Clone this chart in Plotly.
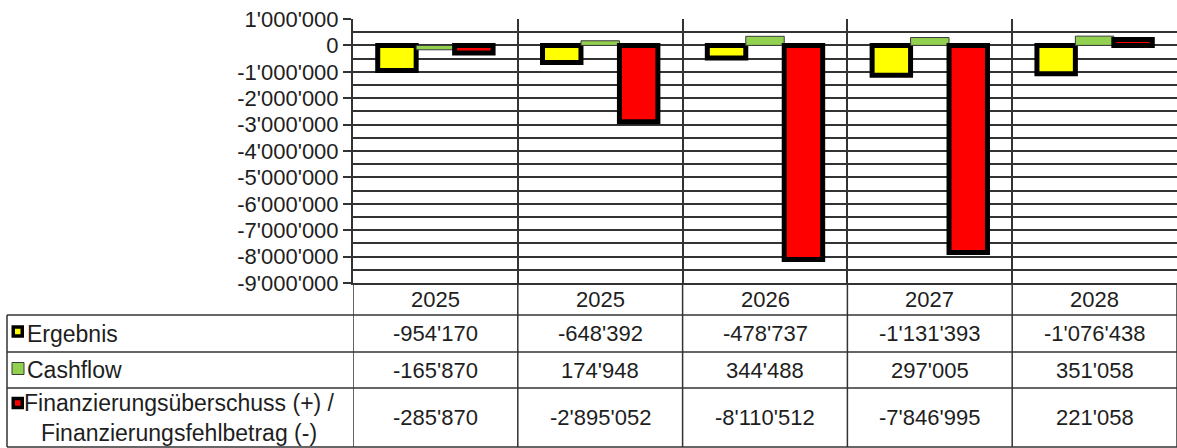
import plotly.graph_objects as go

# ---------------- data ----------------
years = ["2025", "2025", "2026", "2027", "2028"]
series_names = ["Ergebnis", "Cashflow", "Finanzierungsüberschuss (+) /<br>Finanzierungsfehlbetrag (-)"]
ergebnis = [-954170, -648392, -478737, -1131393, -1076438]
cashflow = [-165870, 174948, 344488, 297005, 351058]
finanz = [-285870, -2895052, -8110512, -7846995, 221058]
y_tickvals = [1000000, 0, -1000000, -2000000, -3000000, -4000000, -5000000,
              -6000000, -7000000, -8000000, -9000000]
y_ticktext = ["1'000'000", "0", "-1'000'000", "-2'000'000", "-3'000'000", "-4'000'000",
              "-5'000'000", "-6'000'000", "-7'000'000", "-8'000'000", "-9'000'000"]
y_minor = [500000, -500000, -1500000, -2500000, -3500000, -4500000, -5500000,
           -6500000, -7500000, -8500000]

colors = ["#FFFF00", "#92D050", "#FF0000"]
FONT = "Liberation Sans, Arial, sans-serif"
TXT = "#1e1e1e"
FS = 22
FS_LAB = 23

W, H = 1177, 448
L, R, T, B = 353, 0, 19, 165
PW, PH = W - L - R, H - T - B


def px(xp):
    return (xp - L) / PW


def py(yp):
    return (T + PH - yp) / PH


def fmt(v):
    return f"{v:,}".replace(",", "'")


xs = list(range(len(years)))
fig = go.Figure()
series = [ergebnis, cashflow, finanz]
line_w = [5, 1, 5]
line_c = ["#000000", "#3a3a3a", "#000000"]
for name, vals, c, lw, lc in zip(series_names, series, colors, line_w, line_c):
    fig.add_trace(go.Bar(x=xs, y=vals, name=name, marker=dict(color=c, line=dict(color=lc, width=lw)),
                         hoverinfo="y"))

shapes = []
annotations = []
GRID = "#333333"
# table horizontal lines
for yp in [315, 352, 388, 447]:
    shapes.append(dict(type="line", xref="paper", yref="paper", x0=px(7), x1=1, y0=py(yp), y1=py(yp),
                       line=dict(color=GRID, width=1.5)))
# table left border
shapes.append(dict(type="line", xref="paper", yref="paper", x0=px(7), x1=px(7), y0=py(315), y1=py(447),
                   line=dict(color=GRID, width=1.5)))
# category boundaries through the table
for i in range(len(years) + 1):
    shapes.append(dict(type="line", xref="x", yref="paper", x0=i - 0.5, x1=i - 0.5, y0=0, y1=py(447),
                       line=dict(color=GRID, width=1.5)))

# year header row + values
row_centers = [333.5, 370, 417.5]
for i, yr in enumerate(years):
    annotations.append(dict(x=i, y=py(299), xref="x", yref="paper", text=yr, showarrow=False,
                            xanchor="center", yanchor="middle", font=dict(family=FONT, size=FS, color=TXT)))
    for vals, yc in zip(series, row_centers):
        annotations.append(dict(x=i, y=py(yc), xref="x", yref="paper", text=fmt(vals[i]), showarrow=False,
                                xanchor="center", yanchor="middle", font=dict(family=FONT, size=FS, color=TXT)))

# legend keys + labels
key_y = [331.5, 368.5, 403]
for k, (name, c, yc) in enumerate(zip(series_names, colors, key_y)):
    if k == 1:
        shapes.append(dict(type="rect", xref="paper", yref="paper", x0=px(12), x1=px(24),
                           y0=py(yc + 6), y1=py(yc - 6), fillcolor=c, line=dict(color="#3a3a3a", width=1)))
    else:
        shapes.append(dict(type="rect", xref="paper", yref="paper", x0=px(11.5), x1=px(24),
                           y0=py(yc + 6.25), y1=py(yc - 6.25), fillcolor="#000000", line=dict(width=0)))
        shapes.append(dict(type="rect", xref="paper", yref="paper", x0=px(15), x1=px(20.5),
                           y0=py(yc + 2.75), y1=py(yc - 2.75), fillcolor=c, line=dict(width=0)))
for name, yc in zip(series_names[:2], row_centers[:2]):
    annotations.append(dict(x=px(25), y=py(yc), xref="paper", yref="paper", text=name, showarrow=False,
                            xanchor="left", yanchor="middle", font=dict(family=FONT, size=FS_LAB, color=TXT)))
annotations.append(dict(x=px(179), y=py(row_centers[2]), xref="paper", yref="paper", text=series_names[2],
                        showarrow=False, xanchor="center", yanchor="middle", align="center",
                        font=dict(family=FONT, size=FS_LAB, color=TXT)))

fig.update_layout(
    width=W, height=H,
    margin=dict(l=L, r=R, t=T, b=B, autoexpand=False),
    paper_bgcolor="white", plot_bgcolor="white",
    barmode="group", bargap=0.3, bargroupgap=0,
    showlegend=False,
    shapes=shapes, annotations=annotations,
    font=dict(family=FONT, size=FS, color=TXT),
    xaxis=dict(range=[-0.5, len(years) - 0.5], tickvals=[i - 0.5 for i in range(len(years) + 1)],
               showticklabels=False, ticks="", showgrid=True, gridcolor=GRID, gridwidth=1.5,
               showline=True, linecolor=GRID, linewidth=2, zeroline=False, fixedrange=True),
    yaxis=dict(range=[-9000000, 1000000], tickvals=y_tickvals, ticktext=y_ticktext,
               ticks="outside", ticklen=8, tickwidth=1.5, tickcolor=GRID,
               showgrid=True, gridcolor=GRID, gridwidth=1.5,
               minor=dict(tickvals=y_minor, showgrid=True, gridcolor=GRID, gridwidth=1.5, ticks=""),
               zeroline=True, zerolinecolor=GRID, zerolinewidth=1.5,
               showline=True, linecolor=GRID, linewidth=2,
               tickfont=dict(family=FONT, size=FS, color=TXT), fixedrange=True),
)

fig.write_html("out.html", config={"displayModeBar": False},
               post_script="document.body.style.margin='0';")
